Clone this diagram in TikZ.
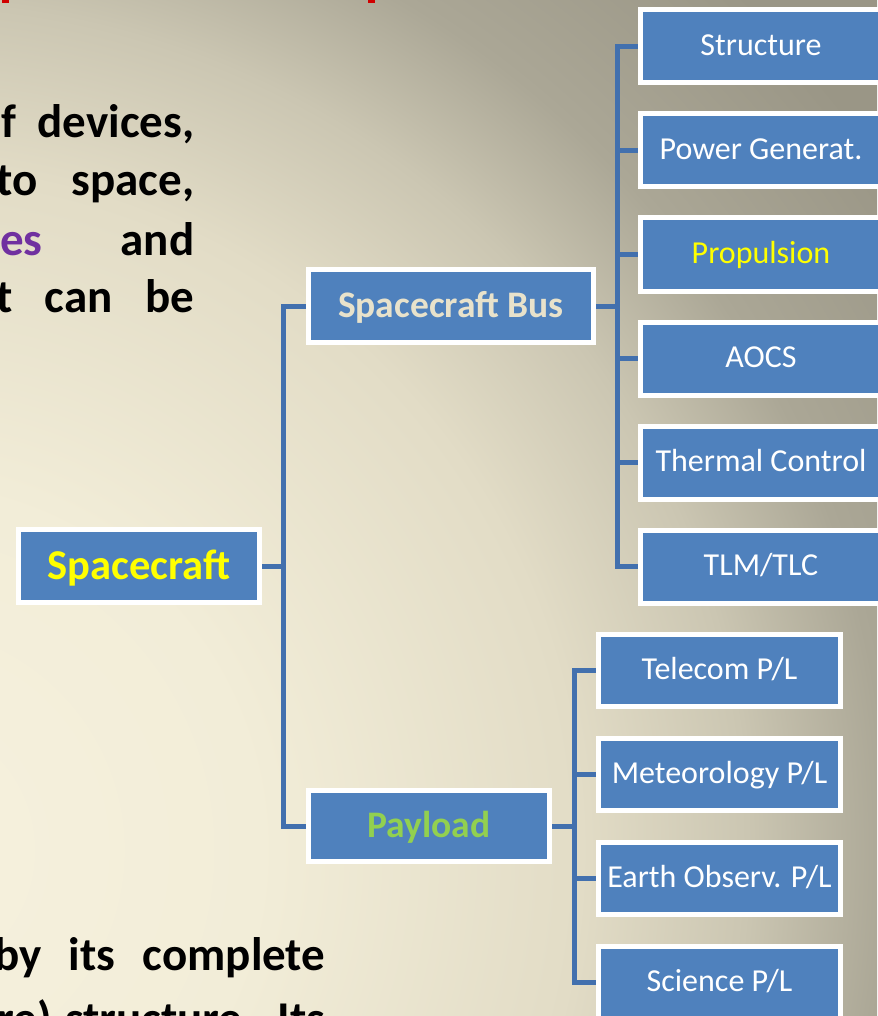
\documentclass[tikz,border=0pt]{standalone}
\usepackage{fontspec}
\setmainfont{Carlito}
\definecolor{boxblue}{HTML}{4F81BD}
\definecolor{linecol}{HTML}{4270AE}
\definecolor{scyellow}{HTML}{FFFF00}
\definecolor{busbeige}{HTML}{E8E2CB}
\definecolor{plgreen}{HTML}{92D050}
\definecolor{purp}{HTML}{7030A0}
\definecolor{titlered}{HTML}{D00000}
\definecolor{bgA}{HTML}{F6F1DE}
\definecolor{bgB}{HTML}{F2EDD8}
\definecolor{bgC}{HTML}{E2DCC6}
\definecolor{bgD}{HTML}{CBC6B2}
\definecolor{bgE}{HTML}{ABA796}
\definecolor{bgF}{HTML}{9A9686}
\pgfdeclareradialshading{bgshade}{\pgfpoint{0bp}{0bp}}{color(0bp)=(bgA); color(6.9bp)=(bgB); color(13.1bp)=(bgC); color(16.3bp)=(bgD); color(19bp)=(bgE); color(23.1bp)=(bgF); color(25bp)=(bgF); color(50bp)=(bgF)}
\pgfdeclarelayer{bg}
\pgfdeclarelayer{lines}
\pgfsetlayers{bg,lines,main}
\tikzset{
  sbox/.style={draw=white, line width=5pt, fill=boxblue, inner sep=0pt, align=center},
  topbox/.style={sbox, minimum width=241pt, minimum height=73pt,
    font=\fontsize{42.5}{50}\selectfont\bfseries, text=scyellow,
    text height=27pt, text depth=1pt},
  midbox/.style={sbox, minimum height=73pt,
    font=\fontsize{37.5}{44}\selectfont\bfseries, text height=24pt, text depth=1pt},
  busitem/.style={sbox, minimum width=241pt, minimum height=73pt,
    font=\fontsize{32}{38}\selectfont, text=white, text height=20.5pt, text depth=2pt},
  plitem/.style={sbox, minimum width=242pt, minimum height=72pt,
    font=\fontsize{32}{38}\selectfont, text=white, text height=20.5pt, text depth=2pt},
  conn/.style={draw=linecol, line width=5pt},
  para/.style={anchor=base west, inner sep=0pt, font=\fontsize{47}{55}\selectfont\bfseries, text=black}
}
\begin{document}
\begin{tikzpicture}[x=1pt,y=-1pt]
\useasboundingbox (0,0) rectangle (877,1016);
\begin{pgfonlayer}{bg}
  \begin{scope}
    \clip (0,0) rectangle (877,1016);
    \shade[shading=bgshade] (-100,850) circle (1300);
  \end{scope}
  \fill[titlered] (2,0) rectangle (9,3.5);
  \fill[titlered] (368,0) rectangle (375,3.5);
\end{pgfonlayer}

% left text fragments
\node[para] (t1) at (1,138) {\makebox[193pt][s]{f devices,}};
\node[para] (t2) at (-4,196) {\makebox[198pt][s]{to space,}};
\node[para] (t3) at (0,255) {\makebox[194pt][s]{{\color{purp}es} and}};
\node[para] (t4) at (-4,312) {\makebox[198pt][s]{t can be}};
\node[para] (t5) at (-6,970) {\makebox[331pt][s]{by its complete}};
\node[para] (t6) at (-3,1034) {\makebox[328pt][s]{re) structure. Its}};

% main boxes
\node[topbox] (sc) at (139,566) {Spacecraft};
\node[midbox, minimum width=285pt, text=busbeige] (bus) at (451,306) {Spacecraft Bus};
\node[midbox, minimum width=241pt, minimum height=71pt, text=plgreen] (pl) at (429,826) {Payload};

% bus items
\node[busitem] (b1) at (761,46.5) {Structure};
\node[busitem] (b2) at (761,150.5) {Power Generat.};
\node[busitem, text=scyellow] (b3) at (761,254.5) {Propulsion};
\node[busitem] (b4) at (761,358.5) {AOCS};
\node[busitem] (b5) at (761,462.5) {Thermal Control};
\node[busitem] (b6) at (761,566.5) {TLM/TLC};

% payload items
\node[plitem] (p1) at (719.5,670.5) {Telecom P/L};
\node[plitem] (p2) at (719.5,774.5) {Meteorology P/L};
\node[plitem] (p3) at (719.5,878.5) {Earth Observ. P/L};
\node[plitem] (p4) at (719.5,982.5) {Science P/L};

\coordinate (j1) at (283,566);
\coordinate (j2) at (617,306);
\coordinate (j3) at (574,826);

\begin{pgfonlayer}{lines}
  \draw[conn] (sc.east) -- (j1);
  \draw[conn] (bus.west) -| (j1) |- (pl.west);
  \draw[conn] (bus.east) -- (j2);
  \draw[conn] (b1.west) -| (j2) |- (b6.west);
  \draw[conn] (j2 |- b2) -- (b2.west);
  \draw[conn] (j2 |- b3) -- (b3.west);
  \draw[conn] (j2 |- b4) -- (b4.west);
  \draw[conn] (j2 |- b5) -- (b5.west);
  \draw[conn] (pl.east) -- (j3);
  \draw[conn] (p1.west) -| (j3) |- (p4.west);
  \draw[conn] (j3 |- p2) -- (p2.west);
  \draw[conn] (j3 |- p3) -- (p3.west);
\end{pgfonlayer}
\end{tikzpicture}
\end{document}
